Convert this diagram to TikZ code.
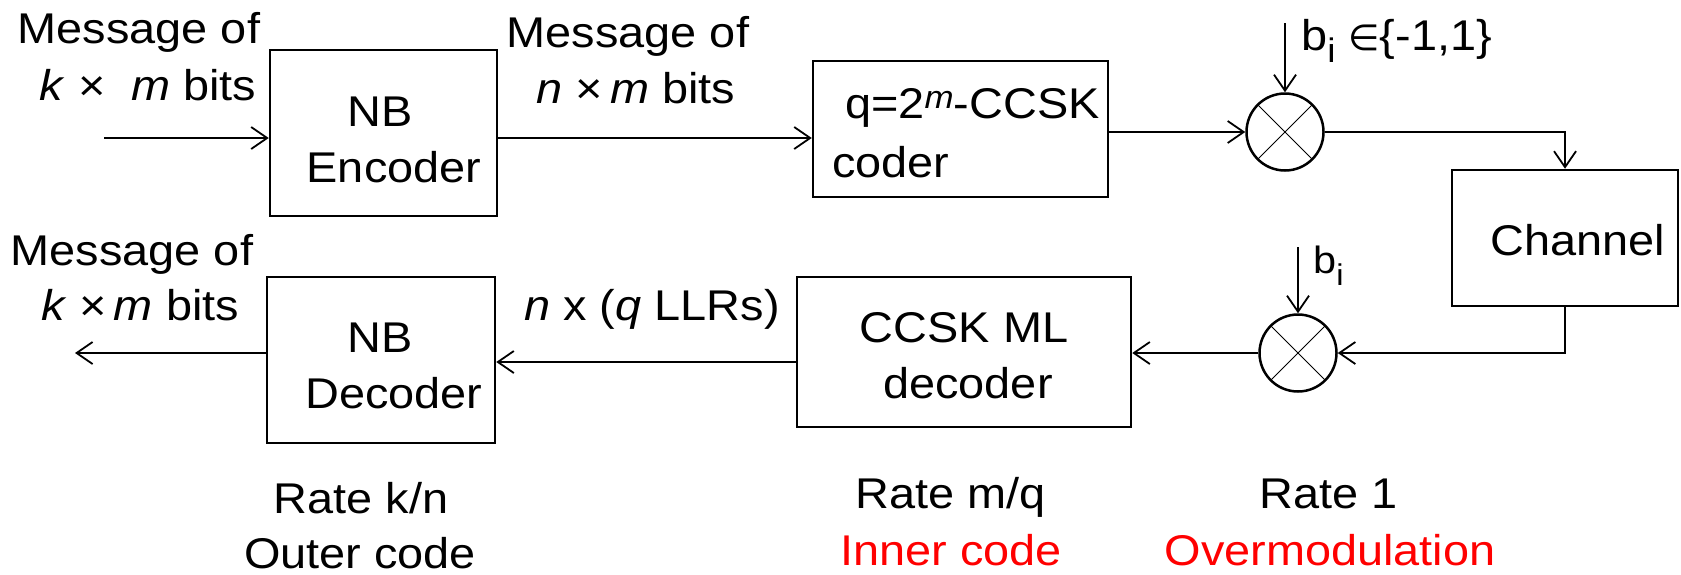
\documentclass[tikz,border=0pt]{standalone}
\usepackage{fontspec}
\setmainfont{Liberation Sans}[FakeStretch=1.09]
\newfontfamily\symfont{DejaVu Sans}
\usetikzlibrary{arrows.meta}
\tikzset{
  box/.style={draw, line width=2.5pt, inner sep=0pt, rectangle},
  lbl/.style={anchor=base, inner sep=0pt, font=\fontsize{43}{50}\selectfont},
  lblw/.style={anchor=base west, inner sep=0pt, font=\fontsize{43}{50}\selectfont},
  conn/.style={line width=1.8pt, -{Straight Barb[length=16pt,width=22pt,line width=1.8pt]}},
  mult/.style={draw, circle, line width=2.5pt, minimum size=77pt, inner sep=0pt},
  xline/.style={line width=1pt},
}
\newcommand{\supm}{\raisebox{10pt}{\fontsize{32}{32}\selectfont\itshape m}}
\newcommand{\subi}[1]{\raisebox{-12pt}{\fontsize{#1}{#1}\selectfont i}}
\begin{document}
\begin{tikzpicture}[x=1pt,y=-1pt]
\useasboundingbox (0,0) rectangle (1681,574);
% boxes
\node[box, minimum width=227pt, minimum height=166pt] (enc) at (383.5,133) {};
\node[box, minimum width=295pt, minimum height=136pt] (coder) at (960.5,129) {};
\node[box, minimum width=226pt, minimum height=136pt] (chan) at (1565,238) {};
\node[box, minimum width=334pt, minimum height=150pt] (mld) at (964,352) {};
\node[box, minimum width=228pt, minimum height=166pt] (dec) at (381,360) {};
\node[mult] (m1) at (1285,132) {};
\node[mult] (m2) at (1298,353) {};
\draw[xline] (m1.north west) -- (m1.south east) (m1.north east) -- (m1.south west);
\draw[xline] (m2.north west) -- (m2.south east) (m2.north east) -- (m2.south west);
% texts
\node[lbl] (msgA1) at (139,43) {Message of};
\node[lbl] (msgA2) at (148,100) {\textit{k} ×\ \ \textit{m} bits};
\node[lbl] (encNB) at (380,126) {NB};
\node[lbl] (encE) at (394,182) {Encoder};
\node[lbl] (msgB1) at (628,47) {Message of};
\node[lbl] (msgB2) at (636,103) {\textit{n} ×\,\textit{m} bits};
\node[lblw] (cod1) at (845,118) {q=2\supm-CCSK};
\node[lblw] (cod2) at (832,177) {coder};
\node[lblw] (bi1l) at (1301,50) {b\subi{34}\ {\symfont\fontsize{36}{40}\selectfont ∈}\{-1,1\}};
\node[lbl] (chanT) at (1578,255) {Channel};
\node[lbl] (msgC1) at (132,265) {Message of};
\node[lbl] (msgC2) at (140,320) {\textit{k} ×\,\textit{m} bits};
\node[lbl] (decNB) at (380,352) {NB};
\node[lbl] (decD) at (394,408) {Decoder};
\node[lbl] (llr) at (652,320) {\textit{n} x (\textit{q} LLRs)};
\node[lbl] (mld1) at (964,342) {CCSK ML};
\node[lbl] (mld2) at (968,398) {decoder};
\node[lblw, font=\fontsize{38}{44}\selectfont] (bi2l) at (1313,273) {b\subi{30}};
\node[lbl] (rk) at (361,513) {Rate k/n};
\node[lbl] (oc) at (360,568) {Outer code};
\node[lbl] (rm) at (951,508) {Rate m/q};
\node[lbl, text=red] (ic) at (951,565) {Inner code};
\node[lbl] (r1) at (1329,508) {Rate 1};
\node[lbl, text=red] (om) at (1330,565) {Overmodulation};
% connectors
\coordinate (in) at (104,138);
\draw[conn] (in) -- (in -| enc.west);
\draw[conn] (enc.east |- 0,138) -- (coder.west |- 0,138);
\draw[conn] (coder.east |- m1) -- (m1.west);
\draw[conn] (m1.east) -| (chan.north);
\coordinate (b1) at (1285,23);
\draw[conn] (b1) -- (m1.north);
\draw[conn] (chan.south) |- (m2.east);
\coordinate (b2) at (1298,247);
\draw[conn] (b2) -- (m2.north);
\draw[conn] (m2.west) -- (m2.west -| mld.east);
\draw[conn] (mld.west |- 0,362) -- (dec.east |- 0,362);
\coordinate (out) at (75,353);
\draw[conn] (dec.west |- out) -- (out);
\end{tikzpicture}
\end{document}
